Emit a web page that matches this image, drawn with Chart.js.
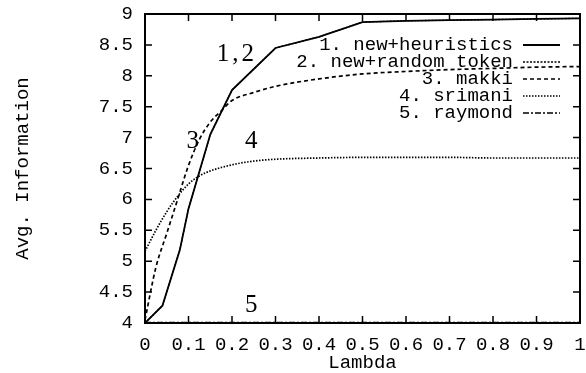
<!DOCTYPE html>
<html>
<head>
<meta charset="utf-8">
<script src="https://cdn.jsdelivr.net/npm/chart.js@4.4.0/dist/chart.umd.min.js"></script>
<style>
  html, body { margin: 0; padding: 0; background: #fff; }
  #wrap { width: 586px; height: 373px; }
</style>
</head>
<body>
<div id="wrap"><canvas id="infoChart" width="586" height="373"></canvas></div>
<script>
// values
const seriesNames = ['1. new+heuristics', '2. new+random token', '3. makki', '4. srimani', '5. raymond'];

const heurLambda = [0, 0.04, 0.08, 0.1, 0.15, 0.2, 0.3, 0.4, 0.5, 0.6, 0.7, 0.8, 0.9, 1.0];
const heurInfo   = [4.0, 4.28, 5.18, 5.85, 7.05, 7.77, 8.45, 8.63, 8.87, 8.89, 8.9, 8.91, 8.92, 8.93];

// new+random token lies on top of new+heuristics ("1,2")
const randLambda = [0, 0.04, 0.08, 0.1, 0.15, 0.2, 0.3, 0.4, 0.5, 0.6, 0.7, 0.8, 0.9, 1.0];
const randInfo   = [4.0, 4.28, 5.18, 5.85, 7.05, 7.77, 8.45, 8.63, 8.87, 8.89, 8.9, 8.91, 8.92, 8.93];

const makkiLambda = [0, 0.025, 0.05, 0.075, 0.1, 0.125, 0.15, 0.175, 0.2, 0.25, 0.3, 0.4, 0.5, 0.6, 0.7, 0.8, 0.9, 1.0];
const makkiInfo   = [4.05, 4.9, 5.45, 6.0, 6.55, 6.97, 7.25, 7.43, 7.6, 7.73, 7.83, 7.95, 8.03, 8.07, 8.1, 8.12, 8.14, 8.15];

const srimaniLambda = [0, 0.025, 0.05, 0.075, 0.1, 0.125, 0.15, 0.2, 0.25, 0.3, 0.4, 0.5, 0.6, 0.7, 0.8, 0.9, 1.0];
const srimaniInfo   = [5.16, 5.5, 5.8, 6.05, 6.25, 6.38, 6.46, 6.56, 6.62, 6.65, 6.67, 6.68, 6.68, 6.68, 6.67, 6.67, 6.67];

const raymondLambda = [0, 0.25, 0.5, 0.75, 1.0];
const raymondInfo   = [4.01, 4.01, 4.01, 4.01, 4.01];

const xTicks = [0, 0.1, 0.2, 0.3, 0.4, 0.5, 0.6, 0.7, 0.8, 0.9, 1];
const xTickLabels = ['0', '0.1', '0.2', '0.3', '0.4', '0.5', '0.6', '0.7', '0.8', '0.9', '1'];
const yTicks = [4, 4.5, 5, 5.5, 6, 6.5, 7, 7.5, 8, 8.5, 9];
const yTickLabels = ['4', '4.5', '5', '5.5', '6', '6.5', '7', '7.5', '8', '8.5', '9'];

// curve tags written inside the plot
const tagText   = ['1,2', '3', '4', '5'];
const tagLambda = [0.211, 0.11, 0.244, 0.244];
const tagInfo   = [8.35, 6.93, 6.93, 4.28];

const mono = 'Liberation Mono';

function pts(xs, ys) {
    return xs.map((v, i) => ({ x: v, y: ys[i] }));
}

// gnuplot style frame: box with inward ticks on all sides
const frameTicks = {
    id: 'frameTicks',
    afterDatasetsDraw(chart) {
        const { ctx, chartArea: a, scales: { x, y } } = chart;
        ctx.save();
        ctx.strokeStyle = '#000';
        ctx.lineWidth = 2;
        ctx.strokeRect(a.left, a.top, a.right - a.left, a.bottom - a.top);
        ctx.lineWidth = 1.5;
        ctx.beginPath();
        x.ticks.forEach(t => {
            const px = x.getPixelForValue(t.value);
            ctx.moveTo(px, a.bottom); ctx.lineTo(px, a.bottom - 7);
            ctx.moveTo(px, a.top); ctx.lineTo(px, a.top + 7);
        });
        y.ticks.forEach(t => {
            const py = y.getPixelForValue(t.value);
            ctx.moveTo(a.left, py); ctx.lineTo(a.left + 7, py);
            ctx.moveTo(a.right, py); ctx.lineTo(a.right - 7, py);
        });
        ctx.stroke();

        // tags
        ctx.fillStyle = '#000';
        ctx.font = '25px "Liberation Serif"';
        ctx.textAlign = 'center';
        ctx.textBaseline = 'middle';
        tagText.forEach((s, i) => {
            ctx.letterSpacing = s.length > 1 ? '3px' : '0px';
            ctx.fillText(s, x.getPixelForValue(tagLambda[i]), y.getPixelForValue(tagInfo[i]));
        });
        ctx.letterSpacing = '0px';

        // key, top right
        ctx.font = '19px "' + mono + '"';
        ctx.textAlign = 'right';
        chart.data.datasets.forEach((ds, i) => {
            const ly = a.top + 31 + i * 17;
            ctx.fillText(ds.label, a.right - 67, ly);
            ctx.save();
            ctx.lineWidth = ds.borderWidth;
            ctx.setLineDash(ds.borderDash || []);
            ctx.beginPath();
            ctx.moveTo(a.right - 57, ly);
            ctx.lineTo(a.right - 20, ly);
            ctx.stroke();
            ctx.restore();
        });
        ctx.restore();
    }
};

const ctx = document.getElementById('infoChart').getContext('2d');
new Chart(ctx, {
    type: 'line',
    data: {
        datasets: [
            { label: seriesNames[0], data: pts(heurLambda, heurInfo), borderColor: '#000', borderWidth: 1.8, tension: 0 },
            { label: seriesNames[1], data: pts(randLambda, randInfo), borderColor: '#000', borderWidth: 1.3, borderDash: [2, 1.5], tension: 0 },
            { label: seriesNames[2], data: pts(makkiLambda, makkiInfo), borderColor: '#000', borderWidth: 1.7, borderDash: [4, 3], cubicInterpolationMode: 'monotone' },
            { label: seriesNames[3], data: pts(srimaniLambda, srimaniInfo), borderColor: '#000', borderWidth: 1.7, borderDash: [1.5, 1.5], cubicInterpolationMode: 'monotone' },
            { label: seriesNames[4], data: pts(raymondLambda, raymondInfo), borderColor: '#000', borderWidth: 1.4, borderDash: [6, 2, 2, 2], tension: 0 }
        ]
    },
    options: {
        responsive: false,
        animation: false,
        layout: { padding: { top: 14, right: 6, left: 0, bottom: 0 } },
        elements: { point: { radius: 0 } },
        plugins: { legend: { display: false }, tooltip: { enabled: false } },
        scales: {
            x: {
                type: 'linear',
                min: 0,
                max: 1,
                afterBuildTicks: s => { s.ticks = xTicks.map(v => ({ value: v })); },
                afterFit: s => { s.height = 50; s.paddingLeft = 0; s.paddingRight = 0; },
                grid: { display: false, drawTicks: false, tickLength: 0 },
                border: { display: false },
                ticks: {
                    autoSkip: false,
                    maxRotation: 0,
                    padding: 11,
                    color: '#000',
                    font: { family: mono, size: 19 },
                    callback: (v, i) => xTickLabels[i]
                },
                title: {
                    display: true,
                    text: 'Lambda',
                    color: '#000',
                    font: { family: mono, size: 19, lineHeight: 1.05 },
                    padding: 0
                }
            },
            y: {
                min: 4,
                max: 9,
                afterBuildTicks: s => { s.ticks = yTicks.map(v => ({ value: v })); },
                afterFit: s => { s.width = 145; s.paddingTop = 0; s.paddingBottom = 0; },
                grid: { display: false, drawTicks: false, tickLength: 0 },
                border: { display: false },
                ticks: {
                    padding: 12,
                    color: '#000',
                    font: { family: mono, size: 19 },
                    callback: (v, i) => yTickLabels[i]
                },
                title: {
                    display: true,
                    text: 'Avg. Information',
                    color: '#000',
                    font: { family: mono, size: 19 },
                    padding: { top: 12, bottom: 0 }
                }
            }
        }
    },
    plugins: [frameTicks]
});
</script>
</body>
</html>
